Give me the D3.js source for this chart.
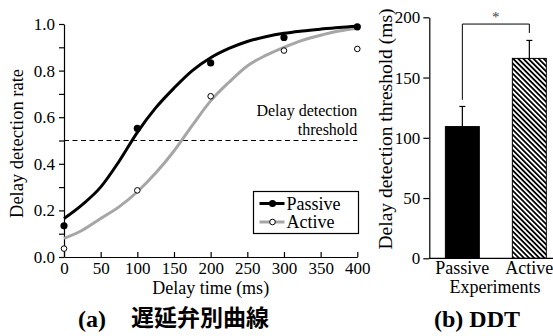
<!DOCTYPE html>
<html><head><meta charset="utf-8">
<script src="https://cdn.jsdelivr.net/npm/d3@7"></script>
<style>
body{margin:0;background:#fff;}
svg{display:block;}
svg text{font-family:"Liberation Serif","Times New Roman",Times,"Nimbus Roman","DejaVu Serif",serif !important;fill:#000;}
svg .cjk{font-family:"Noto Sans CJK JP","Noto Sans CJK SC",sans-serif !important;}
</style></head>
<body>
<svg id="c" width="553" height="336"></svg>
<script>
// ---- data ----
const delays = [0, 100, 200, 300, 400];
const passiveRate = [0.134, 0.552, 0.833, 0.942, 0.988];
const activeRate = [0.036, 0.286, 0.690, 0.886, 0.893];
const fitDelays = [0,25,50,75,100,125,150,175,200,225,250,275,300,325,350,375,400];
const passiveFit = [0.165,0.225,0.300,0.410,0.535,0.640,0.725,0.800,0.855,0.895,0.925,0.945,0.960,0.970,0.978,0.985,0.990];
const activeFit  = [0.080,0.115,0.165,0.215,0.280,0.360,0.455,0.565,0.670,0.750,0.820,0.865,0.900,0.930,0.952,0.970,0.982];
const threshold = 0.5;
const xTicksA = [0,50,100,150,200,250,300,350,400];
const yTicksA = [0,0.1,0.2,0.3,0.4,0.5,0.6,0.7,0.8,0.9,1.0];
const experiments = ["Passive", "Active"];
const thresholdMean = [109.3, 165.9];
const thresholdErr = [16.7, 14.9];
const yTicksB = [0, 50, 100, 150, 200];
const bracketEnds = [131.5, 187];   // value where bracket legs end
const bracketTop = 194.4;

const svg = d3.select("#c");
const FS = 17;

// ---- chart (a) ----
const xA = d3.scaleLinear().domain([0, 400]).range([64, 357.3]);
const yA = d3.scaleLinear().domain([0, 1]).range([257, 24]);

const gA = svg.append("g");
const yAxA = d3.axisLeft(yA).tickValues(yTicksA).tickSize(5).tickSizeOuter(0).tickPadding(4)
  .tickFormat(d => (Math.round(d*10) % 2 === 0) ? d3.format(".1f")(d) : "");
gA.append("g").attr("transform", `translate(${xA(0)},0)`).call(yAxA);
const xAxA = d3.axisBottom(xA).tickValues(xTicksA).tickSizeInner(-5).tickSizeOuter(0).tickPadding(5);
gA.append("g").attr("transform", `translate(0,${yA(0)})`).call(xAxA);
gA.selectAll(".tick text").style("font-size", FS + "px");
gA.selectAll(".domain, .tick line").attr("stroke", "#000").attr("stroke-width", 1.2);

// threshold line
gA.append("line").attr("x1", xA(0)).attr("x2", xA(400)).attr("y1", yA(threshold)).attr("y2", yA(threshold))
  .attr("stroke", "#000").attr("stroke-width", 1.2).attr("stroke-dasharray", "5,3.5");
gA.append("text").attr("x", xA(400)).attr("y", 116).attr("text-anchor", "end").style("font-size", "16px").text("Delay detection");
gA.append("text").attr("x", xA(400)).attr("y", 134.5).attr("text-anchor", "end").style("font-size", "16px").text("threshold");

const line = d3.line().x((d, i) => xA(fitDelays[i])).y(d => yA(d)).curve(d3.curveMonotoneX);
gA.append("path").datum(activeFit).attr("d", line).attr("fill", "none").attr("stroke", "#a6a6a6").attr("stroke-width", 3);
gA.append("path").datum(passiveFit).attr("d", line).attr("fill", "none").attr("stroke", "#000").attr("stroke-width", 3);

gA.selectAll(".pp").data(passiveRate).enter().append("circle")
  .attr("cx", (d, i) => xA(delays[i])).attr("cy", d => yA(d)).attr("r", 3.6).attr("fill", "#000");
gA.selectAll(".ap").data(activeRate).enter().append("circle")
  .attr("cx", (d, i) => xA(delays[i])).attr("cy", d => yA(d)).attr("r", 2.8)
  .attr("fill", "#fff").attr("stroke", "#000").attr("stroke-width", 1);

// axis titles
gA.append("text").attr("transform", `translate(23,${(yA(0)+yA(1))/2+3}) rotate(-90)`)
  .attr("text-anchor", "middle").style("font-size", "18.5px").text("Delay detection rate");
gA.append("text").attr("x", (xA(0)+xA(400))/2).attr("y", 294).attr("text-anchor", "middle")
  .style("font-size", "18px").text("Delay time (ms)");

// legend
const lg = gA.append("g").attr("transform", "translate(253.5,191.5)");
lg.append("rect").attr("width", 105).attr("height", 42).attr("fill", "#fff").attr("stroke", "#000").attr("stroke-width", 1.2);
const legendItems = [{name: "Passive", color: "#000", fill: "#000", r: 3.6}, {name: "Active", color: "#a6a6a6", fill: "#fff", r: 2.8}];
legendItems.forEach((it, i) => {
  const y = 12 + i * 18.5;
  lg.append("line").attr("x1", 6).attr("x2", 31).attr("y1", y).attr("y2", y).attr("stroke", it.color).attr("stroke-width", 3);
  lg.append("circle").attr("cx", 19).attr("cy", y).attr("r", it.r).attr("fill", it.fill)
    .attr("stroke", it.fill === "#fff" ? "#000" : "none").attr("stroke-width", 1);
  lg.append("text").attr("x", 33).attr("y", y).attr("dy", "0.34em").style("font-size", "18px").text(it.name);
});

// ---- chart (b) ----
const xB = d3.scaleBand().domain(experiments).range([429.3, 562.4]).paddingInner(0.493).paddingOuter(0.24);
const yB = d3.scaleLinear().domain([0, 200]).range([258.3, 17.3]);

const defs = svg.append("defs");
const pat = defs.append("pattern").attr("id", "hatch").attr("patternUnits", "userSpaceOnUse")
  .attr("width", 3.6).attr("height", 6).attr("patternTransform", "rotate(-45)");
pat.append("rect").attr("width", 3.6).attr("height", 6).attr("fill", "#fff");
pat.append("rect").attr("width", 1.8).attr("height", 6).attr("fill", "#000");

const gB = svg.append("g");
gB.selectAll(".bar").data(thresholdMean).enter().append("rect")
  .attr("x", (d, i) => xB(experiments[i])).attr("width", xB.bandwidth())
  .attr("y", d => yB(d)).attr("height", d => yB(0) - yB(d))
  .attr("fill", (d, i) => i === 0 ? "#000" : "url(#hatch)").attr("stroke", "#000").attr("stroke-width", 1);
// error bars
thresholdMean.forEach((m, i) => {
  const cx = xB(experiments[i]) + xB.bandwidth() / 2;
  gB.append("line").attr("x1", cx).attr("x2", cx).attr("y1", yB(m)).attr("y2", yB(m + thresholdErr[i])).attr("stroke", "#000").attr("stroke-width", 1.2);
  gB.append("line").attr("x1", cx - 3).attr("x2", cx + 3).attr("y1", yB(m + thresholdErr[i])).attr("y2", yB(m + thresholdErr[i])).attr("stroke", "#000").attr("stroke-width", 1.2);
});
// bracket
const bx0 = xB(experiments[0]) + xB.bandwidth() / 2, bx1 = xB(experiments[1]) + xB.bandwidth() / 2;
gB.append("path").attr("d", `M${bx0},${yB(bracketEnds[0])}V${yB(bracketTop)}H${bx1}V${yB(bracketEnds[1])}`)
  .attr("fill", "none").attr("stroke", "#000").attr("stroke-width", 1);
gB.append("text").attr("x", (bx0 + bx1) / 2).attr("y", yB(bracketTop) - 2).attr("text-anchor", "middle")
  .style("font-size", "15px").style("fill", "#444").text("*");

const yAxB = d3.axisLeft(yB).tickValues(yTicksB).tickSize(6).tickSizeOuter(0).tickPadding(3);
gB.append("g").attr("transform", `translate(429.3,0)`).call(yAxB);
gB.append("line").attr("x1", 429.3).attr("x2", 553).attr("y1", yB(0)).attr("y2", yB(0)).attr("stroke", "#000").attr("stroke-width", 1.2);
gB.selectAll(".tick text").style("font-size", FS + "px");
gB.selectAll(".domain, .tick line").attr("stroke", "#000").attr("stroke-width", 1.2);
experiments.forEach((e) => {
  gB.append("text").attr("x", xB(e) + xB.bandwidth() / 2).attr("y", 274).attr("text-anchor", "middle").style("font-size", "18px").text(e);
});
gB.append("text").attr("x", 495).attr("y", 293).attr("text-anchor", "middle").style("font-size", "18px").text("Experiments");
gB.append("text").attr("transform", `translate(392,${129}) rotate(-90)`)
  .attr("text-anchor", "middle").style("font-size", "19.5px").text("Delay detection threshold (ms)");

// captions
svg.append("text").attr("x", 78).attr("y", 327).style("font-size", "24px").style("font-weight", "bold").text("(a)");
svg.append("text").attr("class", "cjk").attr("x", 131).attr("y", 326).style("font-size", "23px").style("font-weight", "bold").text("遅延弁別曲線");
svg.append("text").attr("x", 477).attr("y", 327).attr("text-anchor", "middle").style("font-size", "24px").style("font-weight", "bold").text("(b) DDT");
</script>
</body></html>
